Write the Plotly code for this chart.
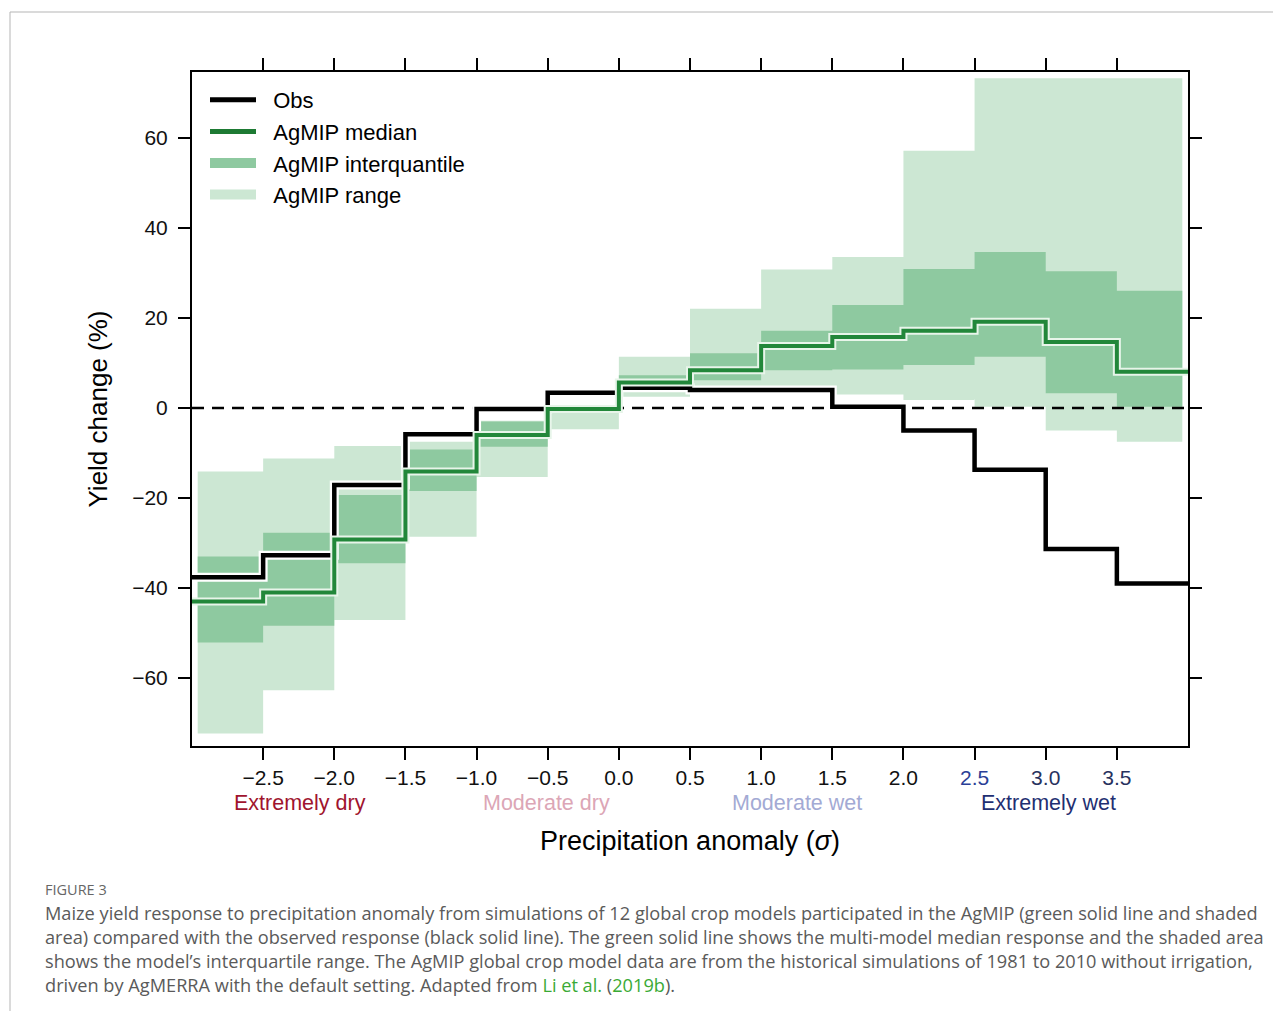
import plotly.graph_objects as go

# ---------------- data ----------------
bin_edges = [-3.0, -2.5, -2.0, -1.5, -1.0, -0.5, 0.0, 0.5, 1.0, 1.5, 2.0, 2.5, 3.0, 3.5, 4.0]
obs = [-37.6, -32.7, -17.1, -5.8, -0.2, 3.4, 4.5, 4.0, 4.0, 0.3, -5.0, -13.7, -31.3, -39.0]
agmip_median = [-43.0, -41.0, -29.2, -14.1, -6.0, -0.2, 5.7, 8.4, 13.8, 15.8, 17.2, 19.2, 14.7, 8.1]
iq_low = [-52.1, -48.4, -34.5, -18.4, -8.6, -1.1, 4.8, 6.2, 8.4, 8.6, 9.6, 11.4, 3.3, 0.3]
iq_high = [-33.0, -27.7, -19.3, -9.2, -3.0, 0.3, 7.3, 12.2, 17.2, 22.9, 30.9, 34.7, 30.4, 26.1]
range_low = [-72.3, -62.7, -47.1, -28.6, -15.3, -4.7, 2.5, 4.7, 4.7, 3.0, 1.8, 0.3, -5.0, -7.5]
range_high = [-14.1, -11.2, -8.4, -7.5, -2.8, 0.5, 11.4, 22.1, 30.8, 33.6, 57.2, 73.3, 73.3, 73.3]

x_tick_vals = [-2.5, -2.0, -1.5, -1.0, -0.5, 0.0, 0.5, 1.0, 1.5, 2.0, 2.5, 3.0, 3.5]
x_tick_text = ["−2.5", "−2.0", "−1.5", "−1.0", "−0.5", "0.0", "0.5", "1.0", "1.5", "2.0",
               "<span style='color:#2b3f96'>2.5</span>",
               "<span style='color:#27325e'>3.0</span>",
               "<span style='color:#27325e'>3.5</span>"]
y_tick_vals = [-60, -40, -20, 0, 20, 40, 60]
y_tick_text = ["−60", "−40", "−20", "0", "20", "40", "60"]

class_names = ["Extremely dry", "Moderate dry", "Moderate wet", "Extremely wet"]
class_pos = [-2.24, -0.51, 1.25, 3.02]
class_colors = ["#a0142e", "#dca6b6", "#a3aad4", "#1f2f72"]

caption_lines = [
    "Maize yield response to precipitation anomaly from simulations of 12 global crop models participated in the AgMIP (green solid line and shaded",
    "area) compared with the observed response (black solid line). The green solid line shows the multi-model median response and the shaded area",
    "shows the model’s interquartile range. The AgMIP global crop model data are from the historical simulations of 1981 to 2010 without irrigation,",
    "driven by AgMERRA with the default setting. Adapted from <span style='color:#3aaa35'>Li et al.</span> (<span style='color:#3aaa35'>2019b</span>).",
]

# ---------------- styling ----------------
LIGHT = "#cce7d3"
DARK = "#8ec9a0"
GREEN = "#22873a"
FONT = "Liberation Sans, Arial, sans-serif"
CAPFONT = "Open Sans, sans-serif"
box_inset = 0.04  # outer boxes slightly inside the frame


def boxes(lows, highs):
    xs, ys = [], []
    n = len(lows)
    for i in range(n):
        x0 = bin_edges[i] + (box_inset if i == 0 else 0)
        x1 = bin_edges[i + 1] - (box_inset if i == n - 1 else 0)
        xs += [x0, x1, x1, x0, x0, None]
        ys += [lows[i], lows[i], highs[i], highs[i], lows[i], None]
    return xs, ys


def steps(vals):
    return bin_edges, vals + [vals[-1]]


fig = go.Figure()

rx, ry = boxes(range_low, range_high)
fig.add_trace(go.Scatter(x=rx, y=ry, fill="toself", fillcolor=LIGHT, mode="lines",
                         line=dict(width=0, color=LIGHT), showlegend=False, hoverinfo="skip"))
ix, iy = boxes(iq_low, iq_high)
fig.add_trace(go.Scatter(x=ix, y=iy, fill="toself", fillcolor=DARK, mode="lines",
                         line=dict(width=0, color=DARK), showlegend=False, hoverinfo="skip"))

# zero line
fig.add_trace(go.Scatter(x=[bin_edges[0], bin_edges[-1]], y=[0, 0], mode="lines",
                         line=dict(color="black", width=2.5, dash="12px,8px"),
                         showlegend=False, hoverinfo="skip"))

ox, oy = steps(obs)
fig.add_trace(go.Scatter(x=ox, y=oy, mode="lines", line=dict(color="white", width=9, shape="hv"),
                         showlegend=False, hoverinfo="skip"))
fig.add_trace(go.Scatter(x=ox, y=oy, mode="lines", line=dict(color="black", width=4.5, shape="hv"),
                         showlegend=False))
mx, my = steps(agmip_median)
fig.add_trace(go.Scatter(x=mx, y=my, mode="lines", line=dict(color="#e8f5ea", width=8, shape="hv"),
                         showlegend=False, hoverinfo="skip"))
fig.add_trace(go.Scatter(x=mx, y=my, mode="lines", line=dict(color=GREEN, width=4, shape="hv"),
                         showlegend=False))

# legend entries
pad = "\u00a0\u00a0"
fig.add_trace(go.Scatter(x=[None], y=[None], mode="lines", line=dict(color="black", width=5),
                         name=pad + "Obs"))
fig.add_trace(go.Scatter(x=[None], y=[None], mode="lines", line=dict(color="#1d7a33", width=5),
                         name=pad + "AgMIP median"))
fig.add_trace(go.Scatter(x=[None], y=[None], mode="lines", line=dict(color=DARK, width=15),
                         name=pad + "AgMIP interquantile"))
fig.add_trace(go.Scatter(x=[None], y=[None], mode="lines", line=dict(color=LIGHT, width=15),
                         name=pad + "AgMIP range"))

# ---------------- layout ----------------
OFF = 8  # page body margin
L, R, T, B = 192 - OFF, 1188 - OFF, 72 - OFF, 746 - OFF
W, H = 1281 - 2 * OFF, 1019 - 2 * OFF
pw, ph = R - L, B - T


def px(xp):
    return (xp - OFF - L) / pw


def py(yp):
    return (B - (yp - OFF)) / ph


annotations = []
for name, pos, col in zip(class_names, class_pos, class_colors):
    annotations.append(dict(x=pos, y=py(803), xref="x", yref="paper", text=name, showarrow=False,
                            font=dict(family=FONT, size=21.5, color=col), xanchor="center", yanchor="middle"))

annotations.append(dict(x=px(43), y=py(889), xref="paper", yref="paper", text="FIGURE 3", showarrow=False,
                        font=dict(family=CAPFONT, size=14.5, color="#666666"),
                        xanchor="left", yanchor="middle"))
for k, line in enumerate(caption_lines):
    annotations.append(dict(x=px(43), y=py(913 + 24 * k), xref="paper", yref="paper", text=line,
                            showarrow=False, font=dict(family=CAPFONT, size=18.2, color="#5a5a5a"),
                            xanchor="left", yanchor="middle", align="left"))

shapes = [
    dict(type="line", xref="paper", yref="paper", x0=px(10), x1=px(10), y0=py(12), y1=py(1040),
         line=dict(color="#b5b5b5", width=1)),
    dict(type="line", xref="paper", yref="paper", x0=px(10), x1=px(1300), y0=py(12), y1=py(12),
         line=dict(color="#b5b5b5", width=1)),
]

axis_common = dict(showline=True, linecolor="black", linewidth=2, mirror="allticks", ticks="outside",
                   ticklen=12, tickwidth=2, tickcolor="black", showgrid=False, zeroline=False,
                   tickfont=dict(family=FONT, size=21, color="#111111"))

fig.update_layout(
    width=W, height=H,
    margin=dict(l=L, r=W - R, t=T, b=H - B, pad=0),
    paper_bgcolor="white", plot_bgcolor="white",
    font=dict(family=FONT, color="black"),
    xaxis=dict(range=[-3, 4], tickvals=x_tick_vals, ticktext=x_tick_text,
               title=dict(text="Precipitation anomaly (<i>σ</i>)", font=dict(family=FONT, size=27), standoff=43),
               **axis_common),
    yaxis=dict(range=[-75.1, 74.7], tickvals=y_tick_vals, ticktext=y_tick_text, ticklabelstandoff=6,
               title=dict(text="Yield change (%)", font=dict(family=FONT, size=26), standoff=17),
               **axis_common),
    legend=dict(x=px(205), y=py(79), xanchor="left", yanchor="top", bgcolor="rgba(0,0,0,0)",
                font=dict(family=FONT, size=22, color="black"), itemwidth=46, tracegroupgap=0),
    annotations=annotations,
    shapes=shapes,
)

fig.write_html("out.html")
